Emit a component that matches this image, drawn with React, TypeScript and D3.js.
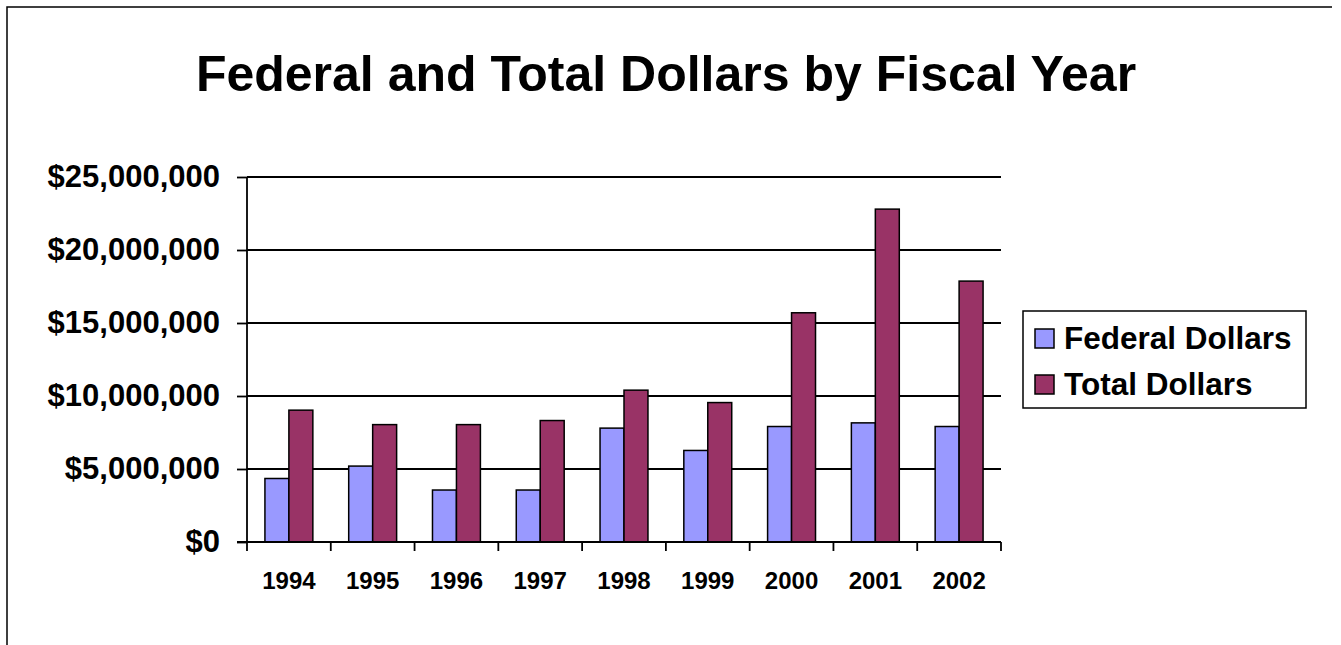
import { useEffect, useRef } from "react";
import * as d3 from "d3";

const years = ["1994", "1995", "1996", "1997", "1998", "1999", "2000", "2001", "2002"];
const seriesNames = ["Federal Dollars", "Total Dollars"];
const federalDollars = [4350000, 5200000, 3560000, 3560000, 7800000, 6270000, 7910000, 8160000, 7910000];
const totalDollars = [9030000, 8040000, 8040000, 8320000, 10400000, 9550000, 15700000, 22800000, 17870000];
const yTicks = [0, 5000000, 10000000, 15000000, 20000000, 25000000];
const colors = ["#9999ff", "#993366"];

const FONT = "'Liberation Sans', Arial, sans-serif";

export default function App() {
  const ref = useRef<SVGSVGElement>(null);

  useEffect(() => {
    if (!ref.current) return;
    const svg = d3.select(ref.current);
    svg.selectAll("*").remove();

    const left = 247, right = 1001, top = 177, bottom = 542;

    // frame of the chart area
    svg.append("path")
      .attr("d", `M7,645 L7,7 L1332,7`)
      .attr("fill", "none")
      .attr("stroke", "#000")
      .attr("stroke-width", 1.5);

    svg.append("text")
      .attr("x", 666)
      .attr("y", 91)
      .attr("text-anchor", "middle")
      .style("font-family", FONT)
      .style("font-weight", "bold")
      .style("font-size", "50px")
      .text("Federal and Total Dollars by Fiscal Year");

    const x0 = d3.scaleBand().domain(years).range([left, right]).padding(0);
    const bw = x0.bandwidth();
    const x1 = d3.scaleBand().domain(seriesNames).range([bw * 0.214, bw * 0.786]).padding(0);
    const y = d3.scaleLinear().domain([0, 25000000]).range([bottom, top]);

    // gridlines
    svg.append("g")
      .selectAll("line")
      .data(yTicks.slice(1))
      .join("line")
      .attr("x1", left)
      .attr("x2", right)
      .attr("y1", (d) => y(d))
      .attr("y2", (d) => y(d))
      .attr("stroke", "#000")
      .attr("stroke-width", 1.8);

    // bars
    const rows = years.map((yr, i) => ({ yr, vals: [federalDollars[i], totalDollars[i]] }));
    svg.append("g")
      .selectAll("g")
      .data(rows)
      .join("g")
      .attr("transform", (d) => `translate(${x0(d.yr)},0)`)
      .selectAll("rect")
      .data((d) => d.vals.map((v, j) => ({ name: seriesNames[j], v, j })))
      .join("rect")
      .attr("x", (d) => x1(d.name)!)
      .attr("y", (d) => y(d.v))
      .attr("width", x1.bandwidth())
      .attr("height", (d) => bottom - y(d.v))
      .attr("fill", (d) => colors[d.j])
      .attr("stroke", "#000")
      .attr("stroke-width", 1.5);

    // y axis
    const yAxis = svg.append("g")
      .attr("transform", `translate(${left},0)`)
      .call(
        d3.axisLeft(y)
          .tickValues(yTicks)
          .tickSize(10)
          .tickPadding(17)
          .tickFormat((d) => "$" + d3.format(",")(d as number))
      );
    yAxis.select(".domain").attr("stroke", "#000").attr("stroke-width", 1.8).attr("d", `M0,${top}V${bottom}`);
    yAxis.selectAll(".tick line").attr("stroke", "#000").attr("stroke-width", 1.8);
    yAxis.selectAll("text")
      .attr("fill", "#000")
      .style("font-family", FONT)
      .style("font-weight", "bold")
      .style("font-size", "31px");

    // x axis: ticks at category boundaries
    const xg = svg.append("g");
    xg.append("line")
      .attr("x1", left - 10)
      .attr("x2", right)
      .attr("y1", bottom)
      .attr("y2", bottom)
      .attr("stroke", "#000")
      .attr("stroke-width", 1.8);
    const bounds = years.map((yr) => x0(yr)!).concat([right]);
    xg.selectAll("line.tk")
      .data(bounds)
      .join("line")
      .attr("class", "tk")
      .attr("x1", (d) => d)
      .attr("x2", (d) => d)
      .attr("y1", bottom)
      .attr("y2", bottom + 9)
      .attr("stroke", "#000")
      .attr("stroke-width", 1.8);
    xg.selectAll("text")
      .data(years)
      .join("text")
      .attr("x", (d) => x0(d)! + bw / 2)
      .attr("y", 589)
      .attr("text-anchor", "middle")
      .style("font-family", FONT)
      .style("font-weight", "bold")
      .style("font-size", "24px")
      .text((d) => d);

    // legend
    const lg = svg.append("g");
    lg.append("rect")
      .attr("x", 1023)
      .attr("y", 311)
      .attr("width", 283)
      .attr("height", 97)
      .attr("fill", "#fff")
      .attr("stroke", "#000")
      .attr("stroke-width", 1.5);
    const items = lg.selectAll("g")
      .data(seriesNames)
      .join("g")
      .attr("transform", (_, i) => `translate(0,${i * 46})`);
    items.append("rect")
      .attr("x", 1035)
      .attr("y", 329)
      .attr("width", 19)
      .attr("height", 19)
      .attr("fill", (_, i) => colors[i])
      .attr("stroke", "#000")
      .attr("stroke-width", 1.5);
    items.append("text")
      .attr("x", 1064)
      .attr("y", 349)
      .style("font-family", FONT)
      .style("font-weight", "bold")
      .style("font-size", "31.5px")
      .text((d) => d);
  }, []);

  return (
    <svg
      ref={ref}
      width={1341}
      height={645}
      style={{ position: "absolute", left: 0, top: 0, background: "#fff" }}
    />
  );
}
